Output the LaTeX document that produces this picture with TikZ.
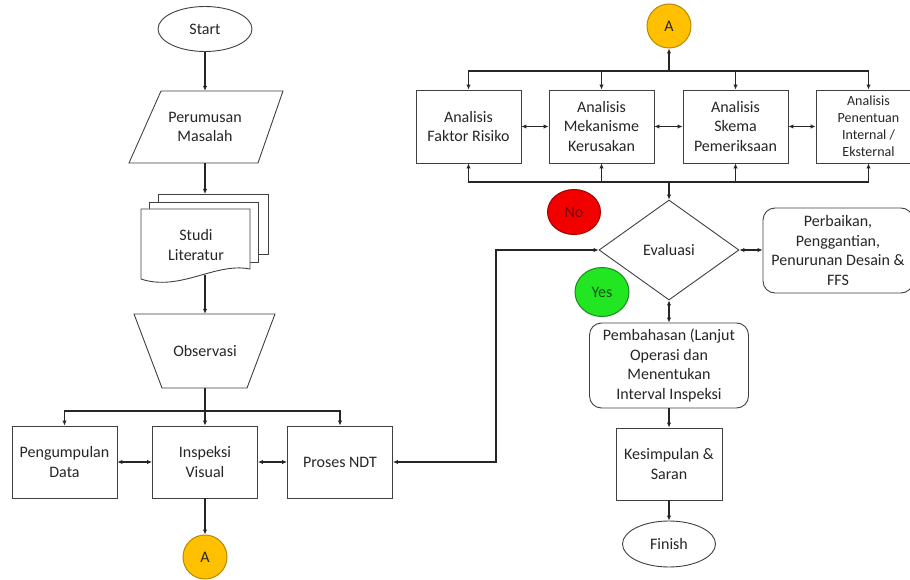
\documentclass[tikz,border=0pt]{standalone}
\usepackage{fontspec}
\setmainfont{Carlito}
\usetikzlibrary{shapes.geometric,arrows.meta}
\definecolor{txt}{HTML}{262626}
\definecolor{edgec}{HTML}{404040}
\definecolor{arrc}{HTML}{262626}
\definecolor{ayel}{HTML}{FFC000}
\definecolor{ayeld}{HTML}{B88A00}
\definecolor{nored}{HTML}{F20000}
\definecolor{noredd}{HTML}{A00000}
\definecolor{notxt}{HTML}{7A0000}
\definecolor{yesgr}{HTML}{22E622}
\definecolor{yesgrd}{HTML}{1A8A1A}
\definecolor{yestxt}{HTML}{145214}
\begin{document}
\begin{tikzpicture}[x=1pt,y=-1pt,
  every node/.style={font=\fontsize{16}{19.5}\selectfont, text=txt},
  outline/.style={draw=edgec, line width=0.9pt, fill=white},
  box/.style={draw=edgec, line width=0.9pt, fill=white, minimum width=105pt, minimum height=72pt, align=center, inner sep=0pt},
  rbox/.style={box, rounded corners=12pt},
  term/.style={ellipse, draw=edgec, line width=0.9pt, fill=white, minimum width=94pt, minimum height=45pt, inner sep=0pt},
  conn/.style={circle, draw=ayeld, line width=1pt, fill=ayel, minimum size=44pt, inner sep=0pt},
  decision/.style={diamond, draw=edgec, line width=0.9pt, fill=white, minimum width=140pt, minimum height=100pt, inner sep=0pt, aspect=1.4},
  arr/.style={draw=arrc, line width=1.5pt, -{Latex[length=5pt,width=4.5pt]}},
  darr/.style={draw=arrc, line width=1.5pt, {Latex[length=5pt,width=4.5pt]}-{Latex[length=5pt,width=4.5pt]}}]
\useasboundingbox (0,0) rectangle (910,580);
\clip (0,0) rectangle (910,580);
\fill[white] (0,0) rectangle (910,580);

% ---------- left column ----------
\node[term] (start) at (205,29) {Start};

\draw[outline] (161,91) -- (283,91) -- (258,163) -- (129,163) -- cycle;
\node[minimum width=120pt, minimum height=72pt, inner sep=0pt, align=center] (per) at (205,127) {Perumusan\\Masalah};

\draw[outline] (158,194) rectangle (268,254);
\draw[outline] (149,202) rectangle (258,262);
\draw[outline] (141,209) -- (250,209) -- (250,269) .. controls (215,262) and (180,292) .. (141,279) -- cycle;
\node[align=center, inner sep=0pt] (studi) at (196,245) {Studi\\Literatur};
\coordinate (studiin) at (205,194);
\coordinate (studiout) at (205,275);

\draw[outline] (134,314) -- (275,314) -- (247,388) -- (162,388) -- cycle;
\node[minimum width=110pt, minimum height=74pt, inner sep=0pt] (obs) at (205,351) {Observasi};

\node[box] (pd) at (64.5,462) {Pengumpulan\\Data};
\node[box] (iv) at (205,462) {Inspeksi\\Visual};
\node[box] (ndt) at (340,462) {Proses NDT};
\coordinate (split) at (205,411);

\node[conn] (a1) at (205,557) {A};

\draw[arr] (start) -- (per);
\draw[arr] (per) -- (studiin);
\draw[arr] (studiout) -- (obs);
\draw[arr] (obs) -- (iv);
\draw[arr] (split) -| (pd.north);
\draw[arr] (split) -| (ndt.north);
\draw[darr] (pd) -- (iv);
\draw[darr] (iv) -- (ndt);
\draw[arr] (iv) -- (a1);

% ---------- right part ----------
\node[conn] (a2) at (669,26) {A};
\coordinate (topbar) at (669,71);
\node[box, minimum height=73pt] (b1) at (468.5,126.5) {Analisis\\Faktor Risiko};
\node[box, minimum height=73pt] (b2) at (601.5,126.5) {Analisis\\Mekanisme\\Kerusakan};
\node[box, minimum height=73pt] (b3) at (735.5,126.5) {Analisis\\Skema\\Pemeriksaan};
\node[box, minimum height=73pt, font=\fontsize{14}{17}\selectfont] (b4) at (868.5,126.5) {Analisis\\Penentuan\\Internal /\\Eksternal};
\coordinate (botbar) at (669,182);

\node[decision] (eval) at (669,250) {Evaluasi};
\node[rbox, minimum width=150pt, minimum height=85pt] (perb) at (838,250.5) {Perbaikan,\\Penggantian,\\Penurunan Desain \&\\FFS};
\node[rbox, minimum width=159pt, minimum height=85pt] (pemb) at (669,365.5) {Pembahasan (Lanjut\\Operasi dan\\Menentukan\\Interval Inspeksi};
\node[box, minimum width=106pt] (kes) at (669,464) {Kesimpulan \&\\Saran};
\node[term, minimum width=93pt, minimum height=46pt] (fin) at (669,544) {Finish};

\node[ellipse, draw=noredd, line width=1pt, fill=nored, minimum width=53pt, minimum height=45pt, inner sep=0pt, text=notxt] (no) at (574,212) {No};
\node[ellipse, draw=yesgrd, line width=1pt, fill=yesgr, minimum width=54pt, minimum height=49pt, inner sep=0pt, text=yestxt] (yes) at (602,292) {Yes};

\draw[arr] (topbar) -- (a2);
\draw[arr] (topbar) -| (b1.north);
\draw[arr] (topbar) -| (b2.north);
\draw[arr] (topbar) -| (b3.north);
\draw[arr] (topbar) -| (b4.north);
\draw[darr] (b1) -- (b2);
\draw[darr] (b2) -- (b3);
\draw[darr] (b3) -- (b4);
\draw[arr] (botbar) -| (b1.south);
\draw[arr] (botbar) -| (b2.south);
\draw[arr] (botbar) -| (b3.south);
\draw[arr] (botbar) -| (b4.south);
\draw[arr] (botbar) -- (eval.north);
\draw[darr] (eval.east) -- (perb.west |- eval.east);
\draw[darr] (eval.south) -- (pemb.north);
\draw[arr] (pemb) -- (kes);
\draw[arr] (kes) -- (fin);
\draw[darr] (eval.west) -- (496,250) |- (ndt.east);
\end{tikzpicture}
\end{document}
